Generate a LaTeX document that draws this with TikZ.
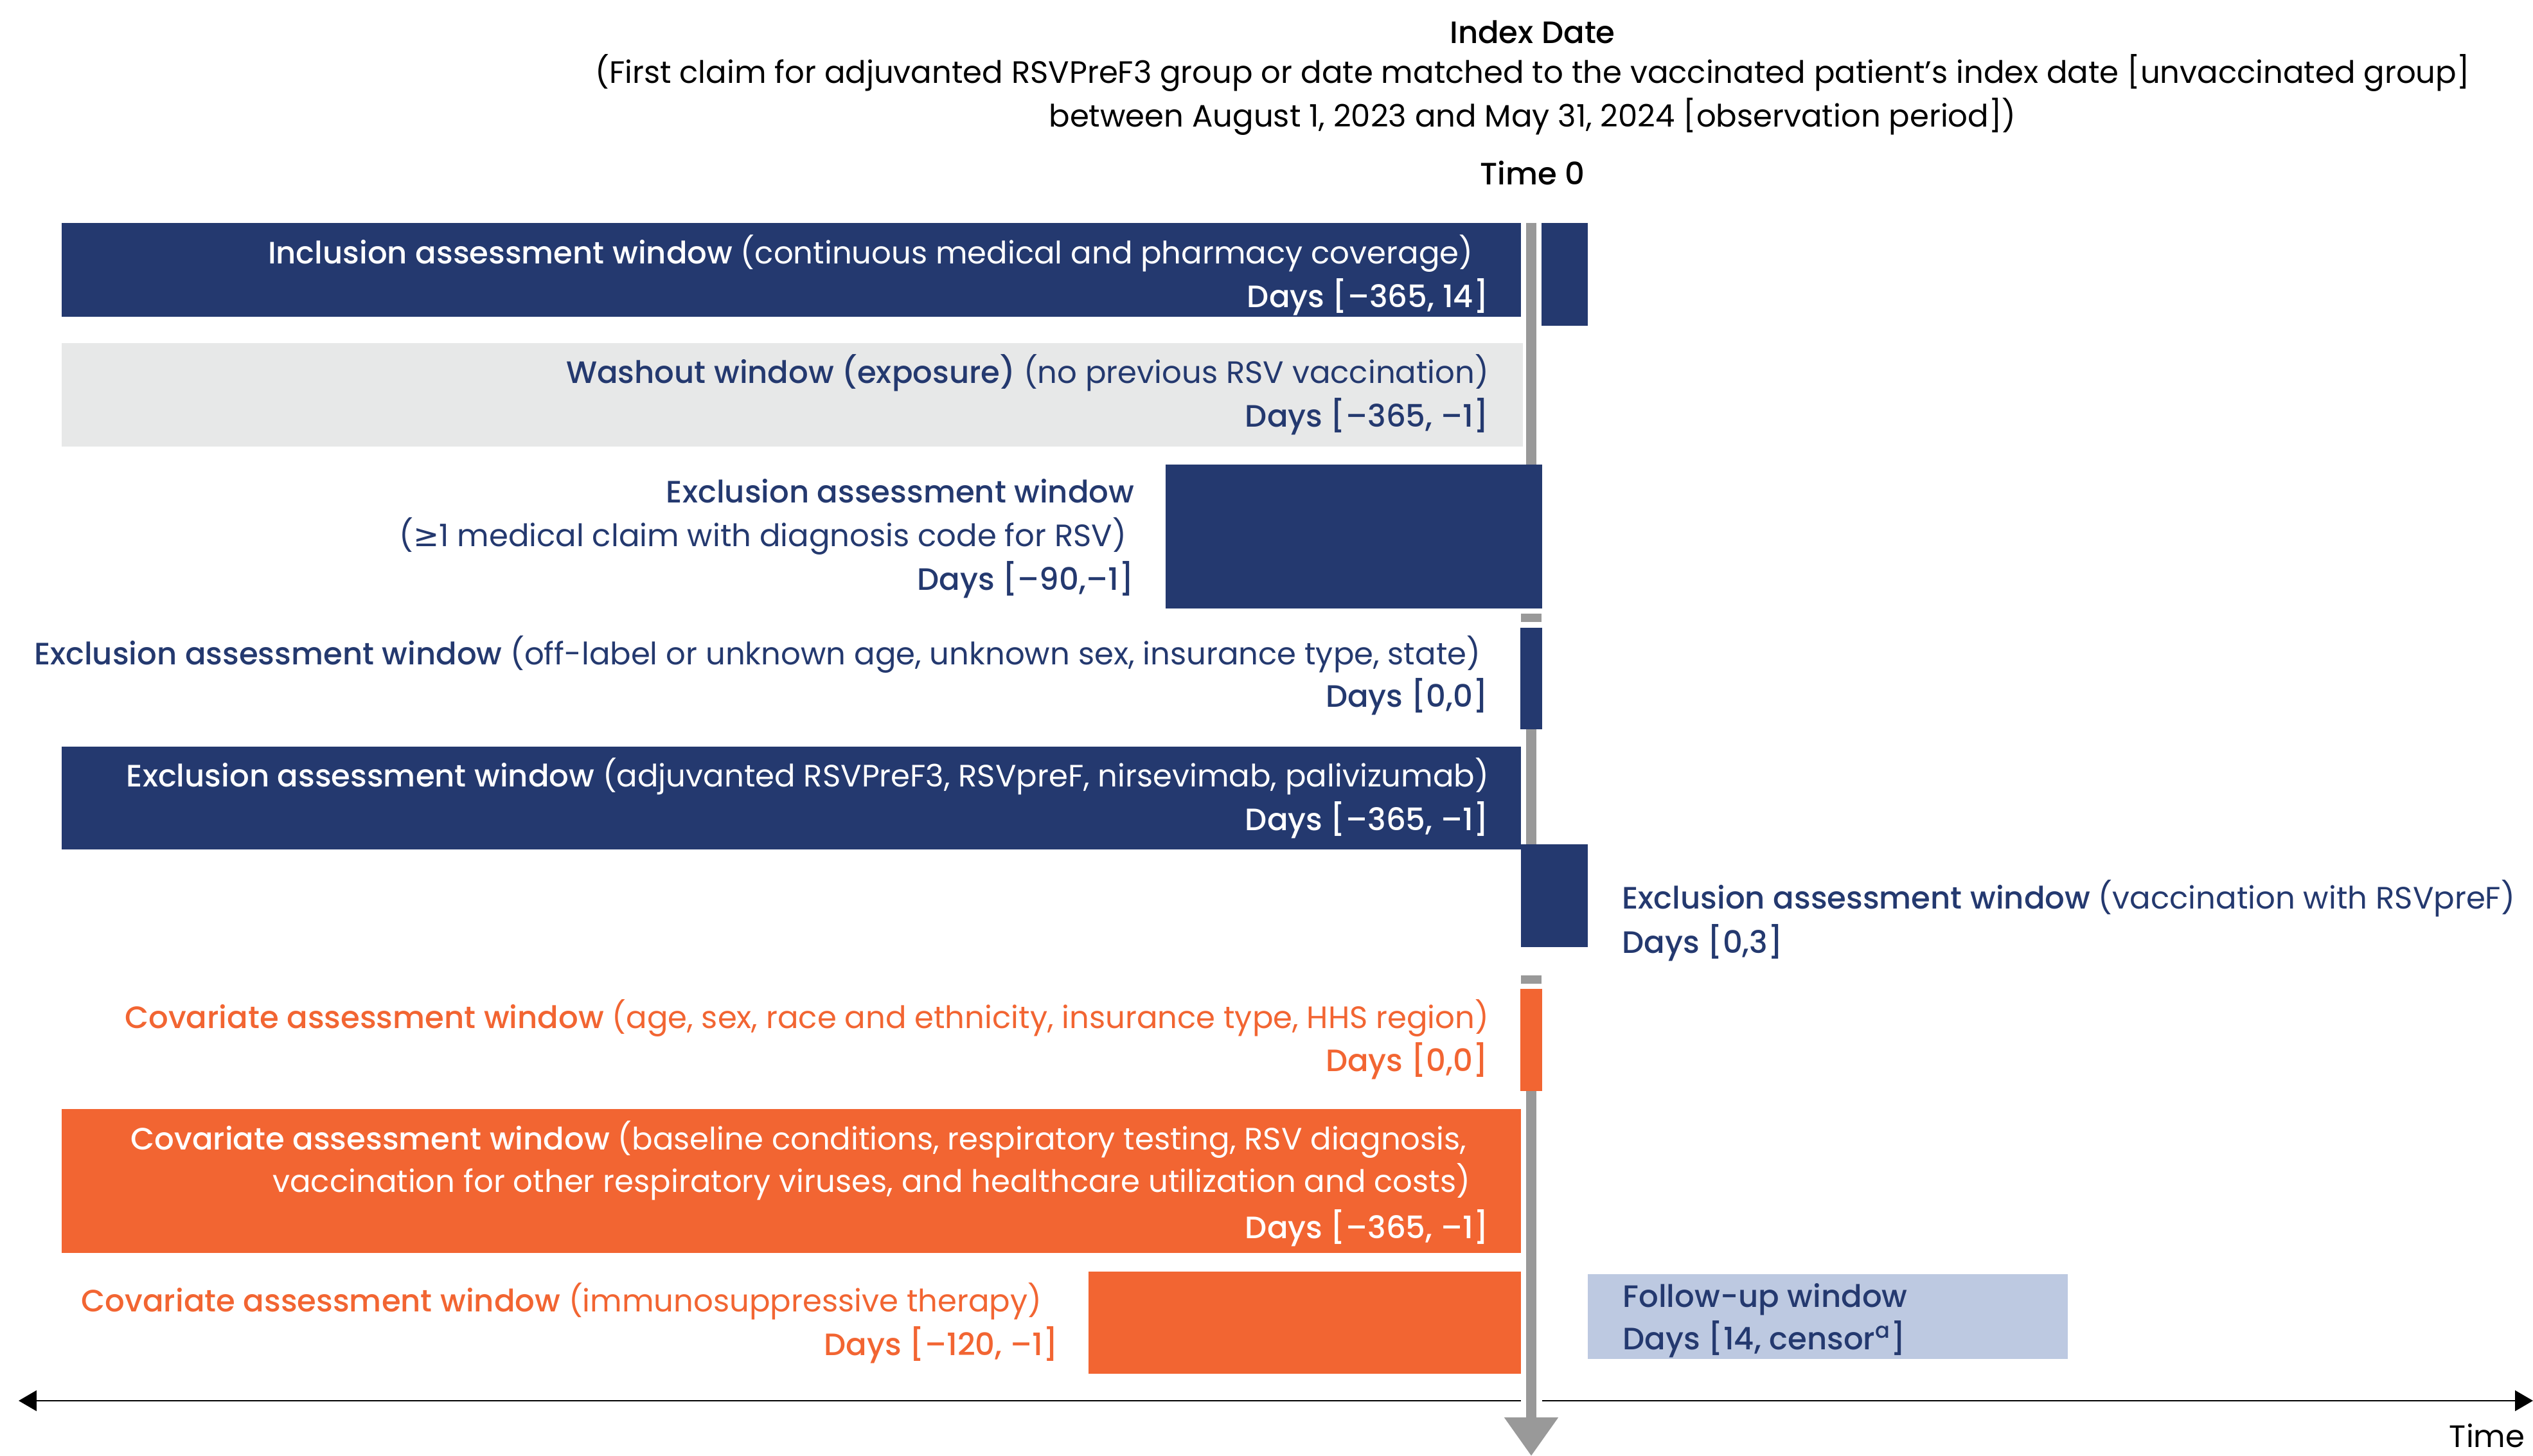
\documentclass[tikz,border=0pt]{standalone}
\usepackage{fontspec}
\setmainfont{Poppins}[BoldFont={Poppins Medium}]
\newfontfamily\symfont{DejaVu Sans}
\usepackage{xcolor}
\usetikzlibrary{arrows.meta}
\definecolor{rsvnavy}{HTML}{24396F}
\definecolor{rsvorange}{HTML}{F26532}
\definecolor{rsvpale}{HTML}{E7E8E8}
\definecolor{rsvblue}{HTML}{BDC9E1}
\definecolor{rsvgrey}{HTML}{999999}
\tikzset{
  sdnavy/.style={fill=rsvnavy},
  sdorange/.style={fill=rsvorange},
  sdpale/.style={fill=rsvpale},
  sdblue/.style={fill=rsvblue},
  sddash/.style={fill=rsvgrey},
  sdbar/.style={draw=rsvgrey, line width=0.16cm, line cap=butt},
  sdaxis/.style={draw=black, line width=0.025cm, arrows={Triangle[width=3.2mm,length=2.8mm]-Triangle[width=3.2mm,length=2.8mm]}},
  sdtxt/.style={inner sep=0pt, font=\fontsize{13.7}{18}\selectfont},
  sdright/.style={sdtxt, anchor=base east},
  sdleft/.style={sdtxt, anchor=base west},
  sdmid/.style={sdtxt, anchor=base},
}

\begin{document}
\begin{tikzpicture}
\useasboundingbox (0,0) rectangle (39.42,22.66);
% header
\node[sdmid] (idx-a) at (23.85,21.98) {\textbf{Index Date}};
\node[sdmid] (idx-b) at (23.85,21.36) {(First claim for adjuvanted RSVPreF3 group or date matched to the vaccinated patient’s index date [unvaccinated group]};
\node[sdmid] (idx-c) at (23.85,20.68) {between August 1, 2023 and May 31, 2024 [observation period])};
\node[sdmid] (time0) at (23.85,19.78) {\textbf{Time 0}};
% time axis
\coordinate (axis-l) at (0.29,0.86);
\coordinate (axis-r) at (39.42,0.86);
\draw[sdaxis] (axis-l) -- (axis-r);
\node[sdright] (axis-lbl) at (39.30,0.13) {Time};
% time 0 bar
\coordinate (t0-a) at (23.83,19.19);
\coordinate (t0-b) at (23.83,15.30);
\coordinate (t0-c) at (23.83,11.40);
\coordinate (t0-d) at (23.83,9.45);
\coordinate (t0-e) at (23.83,5.75);
\coordinate (t0-tip) at (23.83,0);
\draw[sdbar] (t0-a) -- (t0-b);
\draw[sdbar] (t0-c) -- (t0-d);
\draw[sdbar, preaction={draw=white, line width=0.33cm}, -{Triangle[width=8mm,length=6mm]}] (t0-e) -- (t0-tip);
\fill[sddash] (23.67,13.11) rectangle (23.99,12.98);
\fill[sddash] (23.67,7.48) rectangle (23.99,7.35);
% windows
\fill[sdnavy] (0.96,19.19) rectangle (23.67,17.73);
\fill[sdnavy] (23.99,19.19) rectangle (24.71,17.59);
\fill[sdpale] (0.96,17.32) rectangle (23.70,15.71);
\fill[sdnavy] (18.14,15.43) rectangle (24.00,13.19);
\fill[sdnavy] (23.66,12.89) rectangle (24.00,11.31);
\fill[sdnavy] (0.96,11.04) rectangle (23.67,9.44);
\fill[sdnavy] (23.67,9.52) rectangle (24.71,7.92);
\fill[sdorange] (23.66,7.27) rectangle (24.00,5.68);
\fill[sdorange] (0.96,5.40) rectangle (23.67,3.16);
\fill[sdorange] (16.94,2.87) rectangle (23.67,1.28);
\fill[sdblue] (24.71,2.83) rectangle (32.18,1.51);
% labels
\node[sdright, text=white] (incl-a) at (22.93,18.55) {\textbf{Inclusion assessment window} (continuous medical and pharmacy coverage)};
\node[sdright, text=white] (incl-b) at (23.17,17.87) {\textbf{Days [–365, 14]}};
\node[sdright, text=rsvnavy] (wash-a) at (23.18,16.69) {\textbf{Washout window (exposure)} (no previous RSV vaccination)};
\node[sdright, text=rsvnavy] (wash-b) at (23.17,16.01) {\textbf{Days [–365, –1]}};
\node[sdright, text=rsvnavy] (excl1-a) at (17.66,14.83) {\textbf{Exclusion assessment window}};
\node[sdright, text=rsvnavy] (excl1-b) at (17.54,14.15) {({\symfont ≥}1 medical claim with diagnosis code for RSV)};
\node[sdright, text=rsvnavy] (excl1-c) at (17.65,13.47) {\textbf{Days [–90,–1]}};
\node[sdright, text=rsvnavy] (excl2-a) at (23.05,12.31) {\textbf{Exclusion assessment window} (off-label or unknown age, unknown sex, insurance type, state)};
\node[sdright, text=rsvnavy] (excl2-b) at (23.16,11.65) {\textbf{Days [0,0]}};
\node[sdright, text=white] (excl3-a) at (23.18,10.41) {\textbf{Exclusion assessment window} (adjuvanted RSVPreF3, RSVpreF, nirsevimab, palivizumab)};
\node[sdright, text=white] (excl3-b) at (23.17,9.73) {\textbf{Days [–365, –1]}};
\node[sdleft, text=rsvnavy] (excl4-a) at (25.24,8.51) {\textbf{Exclusion assessment window} (vaccination with RSVpreF)};
\node[sdleft, text=rsvnavy] (excl4-b) at (25.24,7.82) {\textbf{Days [0,3]}};
\node[sdright, text=rsvorange] (cov1-a) at (23.18,6.65) {\textbf{Covariate assessment window} (age, sex, race and ethnicity, insurance type, HHS region)};
\node[sdright, text=rsvorange] (cov1-b) at (23.16,5.98) {\textbf{Days [0,0]}};
\node[sdright, text=white] (cov2-a) at (22.83,4.76) {\textbf{Covariate assessment window} (baseline conditions, respiratory testing, RSV diagnosis,};
\node[sdright, text=white] (cov2-b) at (22.89,4.10) {vaccination for other respiratory viruses, and healthcare utilization and costs)};
\node[sdright, text=white] (cov2-c) at (23.17,3.38) {\textbf{Days [–365, –1]}};
\node[sdright, text=rsvorange] (cov3-a) at (16.22,2.24) {\textbf{Covariate assessment window} (immunosuppressive therapy)};
\node[sdright, text=rsvorange] (cov3-b) at (16.47,1.56) {\textbf{Days [–120, –1]}};
\node[sdleft, text=rsvnavy] (fup-a) at (25.25,2.31) {\textbf{Follow-up window}};
\node[sdleft, text=rsvnavy] (fup-b) at (25.25,1.65) {\textbf{Days [14, censor\textsuperscript{a}]}};
\end{tikzpicture}
\end{document}
